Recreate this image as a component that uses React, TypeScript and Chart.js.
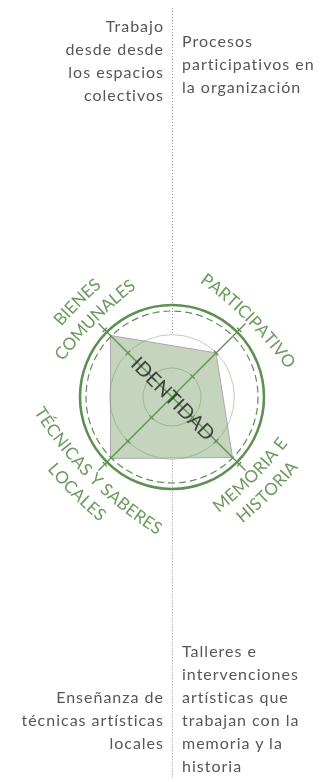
import React, { useEffect, useRef } from "react";
import { Chart, registerables } from "chart.js";

Chart.register(...registerables);

// ---- data ----
const categories: string[][] = [
  ["BIENES", "COMUNALES"],
  ["PARTICIPATIVO"],
  ["MEMORIA E", "HISTORIA"],
  ["TÉCNICAS Y SABERES", "LOCALES"],
];
const values: number[] = [3, 2.15, 2.95, 3];
const ringValues: number[] = [1, 2.15];
const scaleMax = 3;
const centerLabel = "IDENTIDAD";

const topLeftText = ["Trabajo", "desde desde", "los espacios", "colectivos"];
const topRightText = ["Procesos", "participativos en", "la organización"];
const bottomLeftText = ["Enseñanza de", "técnicas artísticas", "locales"];
const bottomRightText = [
  "Talleres e",
  "intervenciones",
  "artísticas que",
  "trabajan con la",
  "memoria y la",
  "historia",
];

const GREEN = "#5f8f53";
const LABEL_GREEN = "#6a9a5e";
const FONT = "Lato, 'Open Sans', sans-serif";

function drawArcText(
  ctx: CanvasRenderingContext2D,
  text: string,
  cx: number,
  cy: number,
  r: number,
  theta: number,
  top: boolean,
  spacing: number,
  capH: number
) {
  const chars = Array.from(text);
  const widths = chars.map((c) => ctx.measureText(c).width + spacing);
  const total = widths.reduce((a, b) => a + b, 0) - spacing;
  if (top) {
    let a = theta - total / (2 * r);
    chars.forEach((c, i) => {
      const w = widths[i] - spacing;
      const mid = a + w / 2 / r;
      ctx.save();
      ctx.translate(cx, cy);
      ctx.rotate(mid + Math.PI / 2);
      ctx.fillText(c, 0, -(r - capH / 2));
      ctx.restore();
      a += widths[i] / r;
    });
  } else {
    let a = theta + total / (2 * r);
    chars.forEach((c, i) => {
      const w = widths[i] - spacing;
      const mid = a - w / 2 / r;
      ctx.save();
      ctx.translate(cx, cy);
      ctx.rotate(mid - Math.PI / 2);
      ctx.fillText(c, 0, r + capH / 2);
      ctx.restore();
      a -= widths[i] / r;
    });
  }
}

const decorPlugin = {
  id: "decor",
  beforeDatasetsDraw(chart: any) {
    const s = chart.scales.r;
    const ctx: CanvasRenderingContext2D = chart.ctx;
    const cx = s.xCenter;
    const cy = s.yCenter;
    const gap = s.getDistanceFromCenterForValue(ringValues[ringValues.length - 1]);
    ctx.save();
    ctx.strokeStyle = "#8f8f8f";
    ctx.lineWidth = 1;
    ctx.setLineDash([1, 2]);
    ctx.beginPath();
    ctx.moveTo(cx + 0.5, 8);
    ctx.lineTo(cx + 0.5, cy - gap);
    ctx.moveTo(cx + 0.5, cy + gap);
    ctx.lineTo(cx + 0.5, chart.height - 4);
    ctx.stroke();
    ctx.restore();
  },
  afterDatasetsDraw(chart: any) {
    const s = chart.scales.r;
    const ctx: CanvasRenderingContext2D = chart.ctx;
    const cx = s.xCenter;
    const cy = s.yCenter;
    const R = s.drawingArea;
    ctx.save();
    // inner rings
    ctx.strokeStyle = "rgba(105,150,95,0.45)";
    ctx.lineWidth = 1;
    ringValues.forEach((v) => {
      const r = s.getDistanceFromCenterForValue(v);
      ctx.beginPath();
      ctx.arc(cx, cy, r, 0, Math.PI * 2);
      ctx.stroke();
    });
    // dashed ring at max
    ctx.strokeStyle = GREEN;
    ctx.lineWidth = 1.2;
    ctx.setLineDash([7, 4]);
    ctx.beginPath();
    ctx.arc(cx, cy, R - 1, 0, Math.PI * 2);
    ctx.stroke();
    ctx.setLineDash([]);
    // outer solid ring
    ctx.lineWidth = 2.6;
    ctx.beginPath();
    ctx.arc(cx, cy, R + 5, 0, Math.PI * 2);
    ctx.stroke();
    // axis lines
    const n = categories.length;
    ctx.strokeStyle = GREEN;
    ctx.lineWidth = 1.3;
    const tickRadii = [
      ...ringValues.map((v) => s.getDistanceFromCenterForValue(v)),
      R + 8,
    ];
    for (let i = 0; i < n; i++) {
      const a = s.getIndexAngle(i) - Math.PI / 2;
      const L = R + 17;
      ctx.beginPath();
      ctx.moveTo(cx, cy);
      ctx.lineTo(cx + Math.cos(a) * L, cy + Math.sin(a) * L);
      ctx.stroke();
      tickRadii.forEach((r) => {
        const px = cx + Math.cos(a) * r;
        const py = cy + Math.sin(a) * r;
        const nx = -Math.sin(a) * 3;
        const ny = Math.cos(a) * 3;
        ctx.beginPath();
        ctx.moveTo(px - nx, py - ny);
        ctx.lineTo(px + nx, py + ny);
        ctx.stroke();
      });
    }
    // gently curved labels
    ctx.fillStyle = LABEL_GREEN;
    ctx.font = `17px ${FONT}`;
    ctx.textAlign = "center";
    ctx.textBaseline = "alphabetic";
    const innerR = R + 25;
    const lineGap = 23;
    const capH = 12.2;
    const rho = 380;
    for (let i = 0; i < n; i++) {
      const theta = s.getIndexAngle(i) - Math.PI / 2;
      const top = Math.sin(theta) < 0;
      const acx = cx + Math.cos(theta) * (innerR - rho);
      const acy = cy + Math.sin(theta) * (innerR - rho);
      const lines = categories[i];
      lines.forEach((line, j) => {
        const k = top ? lines.length - 1 - j : j;
        drawArcText(ctx, line, acx, acy, rho + k * lineGap, theta, top, 0.1, capH);
      });
    }
    // center label
    ctx.save();
    ctx.translate(cx, cy);
    ctx.rotate(Math.PI / 4);
    ctx.fillStyle = "rgba(45,45,45,0.88)";
    ctx.font = `20px ${FONT}`;
    ctx.textAlign = "center";
    ctx.textBaseline = "middle";
    ctx.fillText(centerLabel, 2, 1);
    ctx.restore();
    ctx.restore();
  },
};

function RadarCanvas() {
  const ref = useRef<HTMLCanvasElement | null>(null);
  useEffect(() => {
    let chart: Chart | null = null;
    let cancelled = false;
    const make = () => {
      if (cancelled || !ref.current) return;
      chart = new Chart(ref.current, {
        type: "radar",
        data: {
          labels: categories.map((c) => c.join(" ")),
          datasets: [
            {
              data: values,
              backgroundColor: "#c4d4bd",
              borderColor: "#a9a9a9",
              borderWidth: 1,
              pointRadius: 0,
              pointHoverRadius: 0,
              fill: true,
            },
          ],
        },
        options: {
          responsive: false,
          animation: false,
          events: [],
          layout: { padding: { left: 85, right: 64, top: 310, bottom: 298 } },
          plugins: { legend: { display: false }, tooltip: { enabled: false } },
          scales: {
            r: {
              min: 0,
              max: scaleMax,
              startAngle: -45,
              ticks: { display: false },
              grid: { display: false },
              angleLines: { display: false },
              pointLabels: { display: false },
            },
          },
        },
        plugins: [decorPlugin],
      });
    };
    const fontsAny: any = (document as any).fonts;
    if (fontsAny && fontsAny.load) {
      Promise.all([fontsAny.load(`17px Lato`), fontsAny.load(`20px Lato`)])
        .catch(() => null)
        .then(make);
    } else make();
    return () => {
      cancelled = true;
      if (chart) chart.destroy();
    };
  }, []);
  return <canvas ref={ref} width={323} height={782} style={{ position: "absolute", left: 0, top: 0 }} />;
}

const textStyle: React.CSSProperties = {
  position: "absolute",
  fontFamily: FONT,
  fontSize: 16,
  lineHeight: "23px",
  letterSpacing: "1px",
  color: "#575757",
  whiteSpace: "nowrap",
};

export default function App() {
  return (
    <div style={{ position: "absolute", left: 0, top: 0, width: 323, height: 782, background: "#fff", overflow: "hidden" }}>
      <RadarCanvas />
      <div style={{ ...textStyle, left: 0, width: 164, top: 14, textAlign: "right" }}>
        {topLeftText.map((t, i) => (<div key={i}>{t}</div>))}
      </div>
      <div style={{ ...textStyle, left: 182, top: 29, textAlign: "left" }}>
        {topRightText.map((t, i) => (<div key={i}>{t}</div>))}
      </div>
      <div style={{ ...textStyle, left: 0, width: 164, top: 685, textAlign: "right" }}>
        {bottomLeftText.map((t, i) => (<div key={i}>{t}</div>))}
      </div>
      <div style={{ ...textStyle, left: 182, top: 639, textAlign: "left" }}>
        {bottomRightText.map((t, i) => (<div key={i}>{t}</div>))}
      </div>
    </div>
  );
}
